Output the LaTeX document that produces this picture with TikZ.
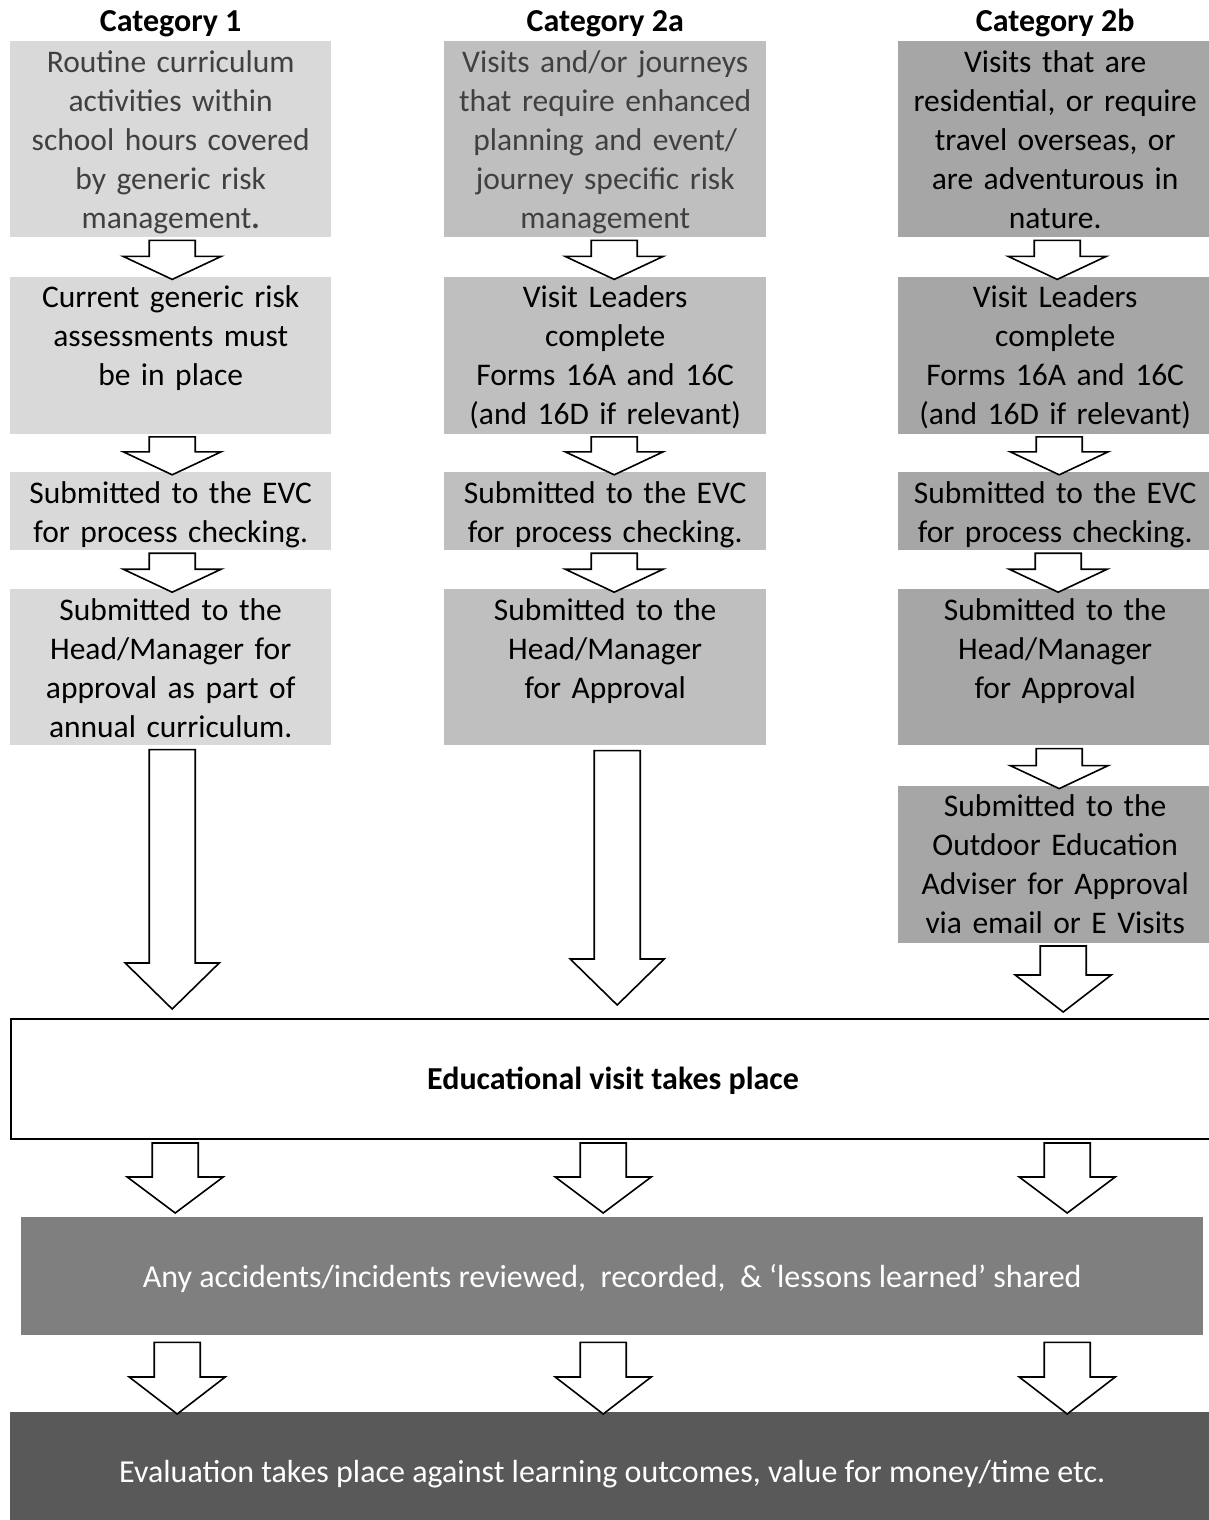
\documentclass[tikz,border=0pt]{standalone}
\usepackage{fontspec}
\setmainfont{Carlito}
\usepackage{tikz}
\usetikzlibrary{positioning}
\usetikzlibrary{calc}
\usepackage{xcolor}

\definecolor{grayA}{HTML}{D9D9D9}
\definecolor{grayB}{HTML}{BFBFBF}
\definecolor{grayC}{HTML}{A6A6A6}
\definecolor{grayD}{HTML}{7F7F7F}
\definecolor{grayE}{HTML}{595959}
\definecolor{textgray}{HTML}{404040}

\tikzset{
    colbox/.style={fill=#1, inner sep=0pt, align=center, text height=31pt, font=\fontsize{31.5}{39}\selectfont},
    title/.style={font=\fontsize{32}{39}\selectfont\bfseries, anchor=base, inner sep=0pt},
    bar/.style={fill=#1, inner sep=0pt, anchor=north west, minimum width=1204pt, text=white},
    blk/.style 2 args={draw=black, fill=white, line width=1.6pt,
        to path={let \p1=(\tikztostart), \p2=(\tikztotarget) in
            (\x1-23pt,\y1) -- (\x1+23pt,\y1) -- (\x1+23pt,\y2+#1) -- (\x1+#2,\y2+#1)
            -- (\x2,\y2) -- (\x1-#2,\y2+#1) -- (\x1-23pt,\y2+#1) -- cycle}}
}

\begin{document}
\begin{tikzpicture}[x=1pt, y=-1pt, font=\fontsize{32}{39}\selectfont]

        \useasboundingbox (0,0) rectangle (1208,1520);

        \node[colbox=grayA, text width=321pt, text depth=165pt, text=textgray, anchor=north west] (a1) at (10,41) {Routine curriculum\\activities within\\school hours covered\\by generic risk\\management\textbf{.}};
        \node[colbox=grayA, text width=321pt, text depth=126pt, below=39pt of a1] (b1) {Current generic risk\\assessments must\\be in place};
        \node[colbox=grayA, text width=321pt, text depth=47pt, below=38pt of b1] (c1) {Submitted to the EVC\\for process checking.};
        \node[colbox=grayA, text width=321pt, text depth=125pt, below=39pt of c1] (d1) {Submitted to the\\Head/Manager for\\approval as part of\\annual curriculum.};

        \node[colbox=grayB, text width=322pt, text depth=165pt, text=textgray, anchor=north west] (a2) at (444,41) {Visits and/or journeys\\that require enhanced\\planning and event/\\journey specific risk\\management};
        \node[colbox=grayB, text width=322pt, text depth=126pt, below=39pt of a2] (b2) {Visit Leaders\\complete\\Forms 16A and 16C\\(and 16D if relevant)};
        \node[colbox=grayB, text width=322pt, text depth=47pt, below=38pt of b2] (c2) {Submitted to the EVC\\for process checking.};
        \node[colbox=grayB, text width=322pt, text depth=125pt, below=39pt of c2] (d2) {Submitted to the\\Head/Manager\\for Approval};

        \node[colbox=grayC, text width=314pt, text depth=165pt, anchor=north west] (a3) at (898,41) {Visits that are\\residential, or require\\travel overseas, or\\are adventurous in\\nature.};
        \node[colbox=grayC, text width=314pt, text depth=126pt, below=39pt of a3] (b3) {Visit Leaders\\complete\\Forms 16A and 16C\\(and 16D if relevant)};
        \node[colbox=grayC, text width=314pt, text depth=47pt, below=38pt of b3] (c3) {Submitted to the EVC\\for process checking.};
        \node[colbox=grayC, text width=314pt, text depth=125pt, below=39pt of c3] (d3) {Submitted to the\\Head/Manager\\for Approval};
        \node[colbox=grayC, text width=314pt, text depth=126pt, below=40pt of d3] (e3) {Submitted to the\\Outdoor Education\\Adviser for Approval\\via email or E Visits};

        \node[title] (t1) at ([yshift=9pt]a1.north) {Category 1};
        \node[title] (t2) at ([yshift=9pt]a2.north) {Category 2a};
        \node[title] (t3) at ([yshift=9pt]a3.north) {Category 2b};

        \node[draw=black, line width=2pt, inner sep=0pt, anchor=north west, minimum width=1204pt, text height=70pt, text depth=50pt, font=\fontsize{32}{39}\selectfont\bfseries] (visit) at (10,1018) {Educational visit takes place};
        \node[bar=grayD, minimum width=1182pt, text height=70pt, text depth=48pt] (review) at (21,1217) {Any accidents/incidents reviewed,~ recorded,~ \& `lessons learned' shared};
        \node[bar=grayE, text height=70pt, text depth=48pt] (evaluation) at (10,1412) {Evaluation takes place against learning outcomes, value for money/time etc.};

        \draw[blk={23pt}{49pt}] ($(a1.south)+(1.5,3)$) to ($(b1.north)+(1.5,3)$);
        \draw[blk={23pt}{49pt}] ($(b1.south)+(1.5,3)$) to ($(c1.north)+(1.5,3)$);
        \draw[blk={23pt}{49pt}] ($(c1.south)+(1.5,3)$) to ($(d1.north)+(1.5,3)$);
        \draw[blk={46pt}{47pt}] ($(d1.south)+(1.5,4)$) to ($(d1.south |- visit.north)+(1.5,-9)$);

        \draw[blk={23pt}{49pt}] ($(a2.south)+(9,3)$) to ($(b2.north)+(9,3)$);
        \draw[blk={23pt}{49pt}] ($(b2.south)+(9,3)$) to ($(c2.north)+(9,3)$);
        \draw[blk={23pt}{49pt}] ($(c2.south)+(9,3)$) to ($(d2.north)+(9,3)$);
        \draw[blk={46pt}{47pt}] ($(d2.south)+(12,5)$) to ($(d2.south |- visit.north)+(12,-13)$);

        \draw[blk={23pt}{49pt}] ($(a3.south)+(2,3)$) to ($(b3.north)+(2,3)$);
        \draw[blk={23pt}{49pt}] ($(b3.south)+(4,3)$) to ($(c3.north)+(4,3)$);
        \draw[blk={23pt}{49pt}] ($(c3.south)+(3,3)$) to ($(d3.north)+(3,3)$);
        \draw[blk={23pt}{49pt}] ($(d3.south)+(4,3)$) to ($(e3.north)+(4,3)$);
        \draw[blk={37pt}{48pt}] ($(e3.south)+(8,3)$) to ($(e3.south |- visit.north)+(8,-6)$);

        \draw[blk={36pt}{48pt}] ($(a1 |- visit.south)+(4.5,3)$) to ($(a1 |- review.north)+(4.5,-4)$);
        \draw[blk={36pt}{48pt}] ($(a2 |- visit.south)+(-2,3)$) to ($(a2 |- review.north)+(-2,-4)$);
        \draw[blk={36pt}{48pt}] ($(a3 |- visit.south)+(12,3)$) to ($(a3 |- review.north)+(12,-4)$);

        \draw[blk={37pt}{48pt}] ($(a1 |- review.south)+(6.5,7)$) to ($(a1 |- evaluation.north)+(6.5,2)$);
        \draw[blk={37pt}{48pt}] ($(a2 |- review.south)+(-2,7)$) to ($(a2 |- evaluation.north)+(-2,2)$);
        \draw[blk={37pt}{48pt}] ($(a3 |- review.south)+(12,7)$) to ($(a3 |- evaluation.north)+(12,2)$);

\end{tikzpicture}
\end{document}
